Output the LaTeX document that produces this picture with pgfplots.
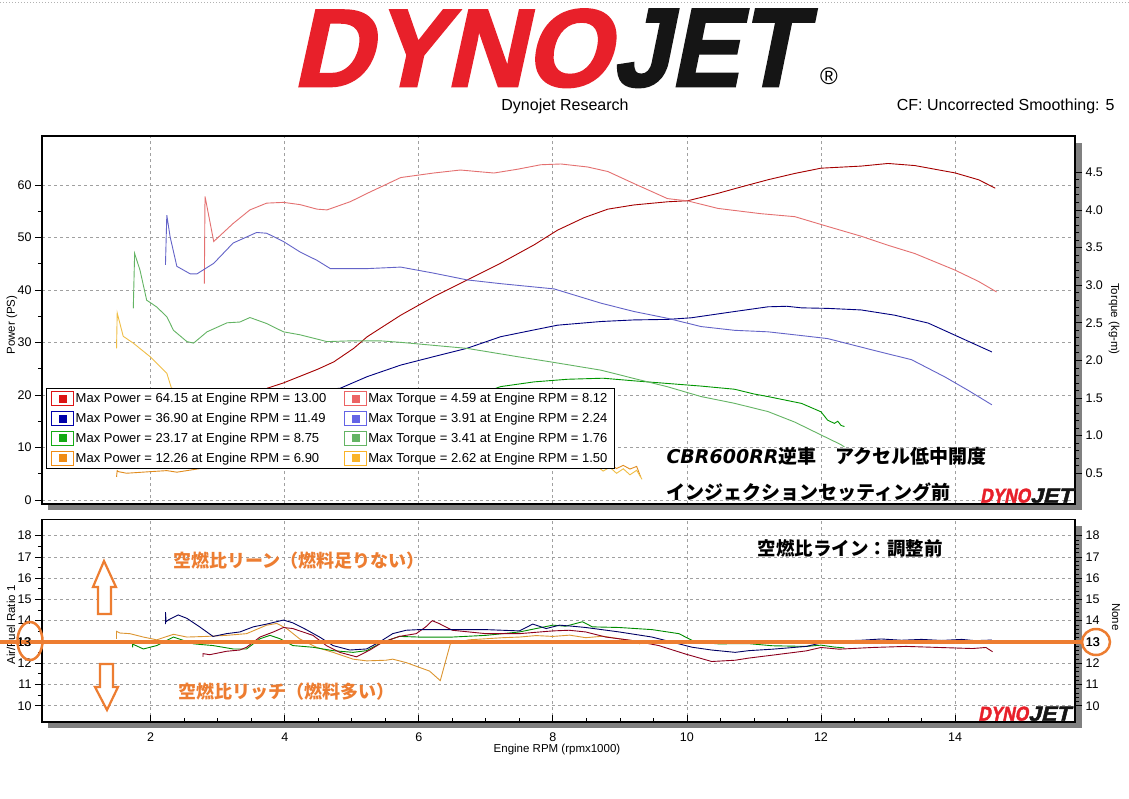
\documentclass[border=0pt]{standalone}
\usepackage{fontspec}
\setmainfont{Liberation Sans}
\newfontfamily\jp{Noto Sans CJK JP}
\newfontfamily\dv{DejaVu Sans}
\newfontfamily\logofont[FakeSlant=0.22,FakeBold=2]{Liberation Sans}
\usepackage{pgfplots}
\pgfplotsset{compat=1.18}

\definecolor{pwred}{RGB}{165,0,0}
\definecolor{tqred}{RGB}{228,112,112}
\definecolor{pwblue}{RGB}{0,0,128}
\definecolor{tqblue}{RGB}{100,100,200}
\definecolor{pwgreen}{RGB}{0,150,0}
\definecolor{tqgreen}{RGB}{100,180,100}
\definecolor{pworange}{RGB}{225,140,30}
\definecolor{tqorange}{RGB}{240,190,70}
\definecolor{lgred}{RGB}{220,20,20}
\definecolor{lgsalmon}{RGB}{236,100,100}
\definecolor{lgnavy}{RGB}{0,0,170}
\definecolor{lgslate}{RGB}{100,100,230}
\definecolor{lggreen}{RGB}{20,170,20}
\definecolor{lgltgreen}{RGB}{100,180,100}
\definecolor{lgorange}{RGB}{240,140,20}
\definecolor{lgyellow}{RGB}{250,180,40}
\definecolor{afrnavy}{RGB}{0,0,100}
\definecolor{afrred}{RGB}{140,0,30}
\definecolor{afrgreen}{RGB}{0,140,0}
\definecolor{afrorange}{RGB}{220,150,50}
\definecolor{note}{RGB}{237,125,49}
\definecolor{logored}{RGB}{232,32,42}
\definecolor{logoblk}{RGB}{21,21,21}
\definecolor{gridgray}{RGB}{160,160,160}
\definecolor{shadow}{RGB}{128,128,128}

\pgfplotsset{
  dynobase/.style={
    scale only axis, width=1033pt,
    xmin=0.378, xmax=15.79,
    axis line style={line width=1.1pt},
    tick align=outside,
    major tick length=7pt, minor tick length=4pt,
    every tick/.style={black, line width=0.8pt},
    tick label style={font=\fontsize{12.5}{13}\selectfont},
    /pgf/number format/assume math mode=true,
    major grid style={gridgray, dash pattern=on 3pt off 3pt, line width=0.8pt},
    every axis plot/.append style={line width=0.9pt, mark=none},
  }
}

\begin{document}
\begin{tikzpicture}[x=1pt,y=1pt]
\fill[white] (0,0) rectangle (1129,-798);
\path[use as bounding box] (0,0) rectangle (1129,-798);
\draw[gray!60, dotted, line width=1pt] (0,-2) -- (1129,-2);

% header
\node[anchor=north west, inner sep=0, text=logored] at (292,-9)
  {\resizebox{318pt}{77pt}{\logofont\bfseries DYNO}};
\node[anchor=north west, inner sep=0, text=logoblk] at (612,-9)
  {\resizebox{190pt}{77pt}{\logofont\bfseries JET}};
\node[font=\fontsize{24}{24}\selectfont] at (829,-76) {®};
\node[font=\fontsize{16}{16}\selectfont] at (565,-106) {Dynojet Research};
\node[anchor=east, font=\fontsize{16}{16}\selectfont] at (1118,-106) {CF: Uncorrected Smoothing: 5};

% panel shadows
\fill[shadow] (48,-504) rectangle (1082,-510);
\fill[shadow] (1075,-143) rectangle (1082,-510);
\fill[shadow] (48,-722) rectangle (1082,-728);
\fill[shadow] (1075,-526) rectangle (1082,-728);

% ---------- power (left axis)
\begin{axis}[dynobase, at={(42pt,-504pt)}, anchor=south west, height=368pt,
  ymin=-0.76, ymax=69.33, ytick={0,10,...,60}, minor y tick num=1, ytick pos=left,
  xtick={2,4,...,14}, xticklabels={}, xtick style={draw=none}, grid=major]
\addplot[pwred] coordinates {(2.80,12.0)(2.90,13.5)(3.0,14.8)(3.3,17.0)(3.6,19.8)(3.74,21.3)(3.98,22.3)(4.49,24.9)(4.73,26.3)(5.03,28.9)(5.23,31.1)(5.73,35.2)(6.22,38.7)(6.72,41.9)(7.22,45.1)(7.72,48.6)(8.07,51.4)(8.47,53.8)(8.82,55.4)(9.21,56.2)(9.71,56.8)(10.01,57.0)(10.46,58.4)(10.8,59.6)(11.21,61.0)(11.61,62.2)(12.0,63.2)(12.60,63.6)(13.0,64.1)(13.40,63.7)(14.0,62.3)(14.35,61.0)(14.60,59.4)};
\addplot[pwblue] coordinates {(2.24,12.2)(2.4,10.9)(2.7,11.9)(3.0,14.0)(3.5,17.9)(4.0,20.0)(4.5,20.9)(4.83,21.3)(5.23,23.5)(5.73,25.7)(6.22,27.3)(6.72,28.9)(7.22,31.1)(7.72,32.4)(8.07,33.3)(8.72,34.0)(9.21,34.3)(9.71,34.4)(10.06,34.7)(10.71,35.9)(11.21,36.8)(11.49,36.9)(11.71,36.6)(12.10,36.5)(12.60,36.2)(13.10,35.2)(13.60,33.7)(14.10,30.8)(14.55,28.2)};
\addplot[pwgreen] coordinates {(1.76,8.4)(2.0,7.8)(2.5,7.9)(3.0,10.3)(3.5,12.6)(4.0,13.3)(5.0,15.8)(6.0,18.4)(7.0,20.6)(7.22,21.6)(7.72,22.5)(8.22,23.0)(8.75,23.2)(9.21,22.7)(9.71,22.2)(10.21,21.7)(10.71,21.1)(11.0,20.2)(11.21,19.7)(11.71,18.4)(12.0,16.8)(12.10,15.2)(12.2,14.6)(12.25,15.0)(12.3,14.2)(12.35,14.0)};
\addplot[pworange] coordinates {(1.49,4.4)(1.50,5.6)(1.52,5.4)(1.64,5.1)(1.99,5.4)(2.24,5.6)(2.39,5.3)(2.74,6.0)(2.89,6.5)(3.5,7.5)(4.5,9.0)(5.5,10.5)(6.3,11.5)(6.9,12.26)(7.5,11.0)(8.2,8.5)(8.6,7.2)(8.67,7.0)(8.75,6.2)(8.85,6.8)(8.95,6.0)(9.05,6.6)(9.15,5.9)(9.25,6.4)(9.31,4.4)};
\end{axis}

% ---------- torque (right axis) + legend
\begin{axis}[dynobase, at={(42pt,-504pt)}, anchor=south west, height=368pt,
  ymin=0.092, ymax=4.982, axis y line*=right, axis x line=none,
  ytick={0.5,1.0,1.5,2.0,2.5,3.0,3.5,4.0,4.5}, minor y tick num=4,
  yticklabel style={/pgf/number format/.cd, fixed, fixed zerofill, precision=1},
  legend columns=2, legend cell align=left,
  legend style={at={(axis description cs:0.0039,0.3152)}, anchor=north west,
    draw=black, line width=0.8pt, fill=white, font=\fontsize{13}{13}\selectfont,
    inner xsep=5pt, inner ysep=3pt, row sep=5pt,
    nodes={inner sep=1.5pt},
    /tikz/every even column/.append style={column sep=16pt}},
  legend image code/.code={%
    \draw[#1, line width=0.8pt, fill=white] (0pt,-7pt) rectangle (22pt,7pt);
    \fill[#1] (8pt,-3.5pt) rectangle (15pt,3.5pt);}]
\addplot[tqred, forget plot] coordinates {(2.80,3.02)(2.81,4.18)(2.94,3.58)(3.23,3.82)(3.48,4.0)(3.73,4.09)(3.98,4.10)(4.23,4.07)(4.48,4.01)(4.63,4.0)(4.98,4.11)(5.23,4.22)(5.73,4.43)(6.22,4.49)(6.62,4.53)(7.12,4.49)(7.47,4.54)(7.82,4.60)(8.12,4.61)(8.52,4.57)(8.82,4.51)(9.21,4.35)(9.71,4.15)(10.01,4.12)(10.46,4.02)(11.1,3.95)(11.61,3.91)(12.10,3.78)(12.60,3.65)(13.0,3.53)(13.40,3.42)(14.0,3.20)(14.35,3.05)(14.62,2.91)};
\addplot[tqblue, forget plot] coordinates {(2.22,3.27)(2.24,3.93)(2.29,3.64)(2.39,3.25)(2.59,3.15)(2.69,3.15)(2.94,3.29)(3.23,3.56)(3.58,3.70)(3.73,3.69)(3.98,3.58)(4.23,3.44)(4.48,3.33)(4.68,3.22)(5.23,3.22)(5.73,3.24)(6.22,3.16)(6.72,3.07)(7.22,3.02)(8.02,2.95)(8.72,2.76)(9.21,2.65)(9.71,2.56)(10.21,2.45)(10.71,2.40)(11.21,2.38)(11.71,2.33)(12.10,2.29)(12.85,2.12)(13.35,2.01)(13.85,1.78)(14.2,1.60)(14.55,1.41)};
\addplot[tqgreen, forget plot] coordinates {(1.74,2.69)(1.76,3.42)(1.84,3.20)(1.94,2.80)(2.09,2.71)(2.24,2.58)(2.34,2.40)(2.54,2.25)(2.64,2.23)(2.84,2.38)(3.14,2.50)(3.33,2.51)(3.48,2.57)(3.73,2.49)(3.98,2.38)(4.23,2.34)(4.63,2.25)(4.98,2.26)(5.43,2.26)(5.73,2.24)(6.72,2.16)(7.47,2.05)(7.97,1.98)(8.72,1.87)(9.21,1.76)(9.71,1.65)(10.21,1.52)(10.71,1.43)(11.21,1.32)(11.61,1.18)(12.0,1.01)(12.30,0.88)(12.35,0.85)};
\addplot[tqorange, forget plot] coordinates {(1.49,2.16)(1.50,2.63)(1.59,2.32)(1.74,2.23)(1.99,2.05)(2.24,1.83)(2.31,1.63)(3.0,1.55)(4.0,1.43)(5.0,1.40)(6.0,1.30)(6.9,1.27)(8.0,0.85)(8.6,0.62)(8.65,0.60)(8.75,0.53)(8.85,0.58)(8.95,0.50)(9.05,0.56)(9.15,0.48)(9.25,0.54)(9.33,0.42)};
\addlegendimage{color=lgred}\addlegendentry{Max Power = 64.15 at Engine RPM = 13.00}
\addlegendimage{color=lgsalmon}\addlegendentry{Max Torque = 4.59 at Engine RPM = 8.12}
\addlegendimage{color=lgnavy}\addlegendentry{Max Power = 36.90 at Engine RPM = 11.49}
\addlegendimage{color=lgslate}\addlegendentry{Max Torque = 3.91 at Engine RPM = 2.24}
\addlegendimage{color=lggreen}\addlegendentry{Max Power = 23.17 at Engine RPM = 8.75}
\addlegendimage{color=lgltgreen}\addlegendentry{Max Torque = 3.41 at Engine RPM = 1.76}
\addlegendimage{color=lgorange}\addlegendentry{Max Power = 12.26 at Engine RPM = 6.90}
\addlegendimage{color=lgyellow}\addlegendentry{Max Torque = 2.62 at Engine RPM = 1.50}
\end{axis}

% ---------- air/fuel ratio
\begin{axis}[dynobase, at={(42pt,-722pt)}, anchor=south west, height=202.7pt,
  ymin=9.233, ymax=18.77, ytick={10,...,18}, minor y tick num=1, ytick pos=left,
  xtick={2,4,...,14}, minor x tick num=3, xtick pos=bottom, grid=major,
  major x tick style={yshift=7pt}, minor x tick style={yshift=4pt}]
\addplot[afrorange] coordinates {(1.49,13.15)(1.49,13.5)(1.54,13.42)(1.69,13.39)(1.89,13.23)(2.09,13.10)(2.34,13.36)(2.54,13.23)(2.83,13.26)(3.13,13.31)(3.43,13.39)(3.73,13.79)(3.88,13.87)(4.03,13.63)(4.22,13.15)(4.47,12.75)(4.72,12.51)(5.02,12.19)(5.22,12.11)(5.51,12.14)(5.61,12.19)(5.81,12.03)(6.16,11.63)(6.32,11.18)(6.47,12.91)(6.5,12.94)(6.75,13.1)(7.0,13.15)(7.25,13.2)(7.5,13.23)(7.75,13.3)(8.0,13.26)(8.25,13.32)(8.49,13.2)(8.75,13.27)(8.99,13.15)(9.23,13.04)(9.3,12.9)};
\addplot[afrgreen] coordinates {(1.73,12.75)(1.73,12.9)(1.89,12.67)(2.09,12.83)(2.34,13.23)(2.64,12.91)(2.93,12.83)(3.23,12.67)(3.43,12.67)(3.63,13.15)(3.78,13.31)(3.93,13.15)(4.12,12.83)(4.42,12.75)(4.72,12.59)(5.02,12.51)(5.22,12.59)(5.46,12.99)(5.71,13.26)(6.0,13.23)(6.5,13.23)(7.0,13.31)(7.5,13.47)(8.0,13.79)(8.19,13.74)(8.44,13.95)(8.59,13.71)(8.99,13.68)(9.48,13.58)(9.88,13.39)(10.13,12.99)(10.47,12.91)(10.92,12.92)(11.28,12.82)(11.78,12.79)(12.0,12.85)(12.2,12.76)(12.35,12.72)};
\addplot[afrred] coordinates {(2.78,12.30)(2.78,12.45)(2.88,12.40)(3.13,12.56)(3.33,12.62)(3.43,12.75)(3.63,13.23)(3.83,13.47)(3.98,13.68)(4.12,13.63)(4.42,13.31)(4.62,12.83)(4.82,12.51)(5.07,12.30)(5.27,12.62)(5.46,12.99)(5.71,13.26)(5.96,13.39)(6.1,13.7)(6.2,14.0)(6.3,13.87)(6.5,13.55)(7.0,13.39)(7.5,13.39)(8.0,13.52)(8.24,13.55)(8.49,13.47)(8.79,13.23)(9.18,13.07)(9.58,12.83)(9.98,12.43)(10.37,12.08)(10.72,12.14)(10.92,12.24)(11.28,12.38)(11.78,12.58)(12.0,12.74)(12.27,12.66)(12.77,12.74)(13.27,12.79)(13.76,12.74)(14.26,12.69)(14.46,12.74)(14.56,12.54)};
\addplot[afrnavy] coordinates {(2.22,13.84)(2.22,14.4)(2.23,13.95)(2.26,14.03)(2.41,14.27)(2.54,14.11)(2.73,13.71)(2.93,13.26)(3.13,13.39)(3.33,13.47)(3.53,13.71)(3.73,13.84)(3.98,14.03)(4.12,13.90)(4.32,13.58)(4.52,13.23)(4.72,12.83)(4.97,12.62)(5.22,12.67)(5.41,12.99)(5.61,13.39)(5.81,13.55)(6.0,13.58)(6.5,13.58)(7.0,13.58)(7.5,13.52)(7.7,13.84)(7.9,13.63)(8.1,13.79)(8.29,13.74)(8.49,13.68)(8.99,13.47)(9.48,13.23)(9.78,12.99)(10.08,12.75)(10.37,12.62)(10.72,12.51)(10.92,12.59)(11.28,12.66)(11.78,12.79)(12.0,12.95)(12.3,13.05)(12.6,13.08)(12.9,13.14)(13.2,13.08)(13.5,13.12)(13.8,13.07)(14.1,13.12)(14.3,13.06)(14.55,13.09)};
\end{axis}

\begin{axis}[dynobase, at={(42pt,-722pt)}, anchor=south west, height=202.7pt,
  ymin=9.233, ymax=18.77, axis y line*=right, axis x line=none,
  ytick={10,...,18}, minor y tick num=4]
\end{axis}

% axis titles
\begin{scope}[font=\fontsize{11.5}{12}\selectfont]
\node[rotate=90] at (12,-325) {Power (PS)};
\node[rotate=-90] at (1114,-319) {Torque (kg-m)};
\node[rotate=90] at (11,-625) {Air/Fuel Ratio 1};
\node[rotate=-90] at (1116,-617) {None};
\node at (557,-750) {Engine RPM (rpmx1000)};
\end{scope}

% in-plot notes
\node[anchor=west, font=\fontsize{19}{19}\selectfont] at (663,-456)
  {{\dv\bfseries\itshape CBR600RR}{\jp\bfseries 逆車　アクセル低中開度}};
\node[anchor=west, font=\fontsize{19}{19}\selectfont] at (663,-492)
  {\jp\bfseries インジェクションセッティング前};
\node[font=\fontsize{18.5}{19}\selectfont] at (850,-548) {\jp\bfseries 空燃比ライン：調整前};

% small logos
\node[anchor=south west, inner sep=0] at (980,-503)
  {\resizebox{50pt}{14pt}{\color{logored}\logofont\bfseries DYNO}\resizebox{42pt}{14pt}{\color{logoblk}\logofont\bfseries JET}};
\node[anchor=south west, inner sep=0] at (978,-721)
  {\resizebox{50pt}{14pt}{\color{logored}\logofont\bfseries DYNO}\resizebox{42pt}{14pt}{\color{logoblk}\logofont\bfseries JET}};

% orange annotations
\draw[note, line width=4pt] (0,-642) -- (1082,-642);
\node[anchor=east, inner sep=0, font=\fontsize{12.5}{13}\selectfont] at (31,-642) {13};
\node[anchor=west, inner sep=0, font=\fontsize{12.5}{13}\selectfont] at (1086,-642) {13};
\draw[note, line width=2.5pt] (30,-641) ellipse (12.5 and 19);
\draw[note, line width=2.5pt] (1096,-642) ellipse (14 and 13);
\draw[note, line width=2.2pt, fill=white, line join=miter]
  (104,-561) -- (116,-587) -- (111,-587) -- (111,-614) -- (98,-614) -- (98,-587) -- (93,-587) -- cycle;
\draw[note, line width=2.2pt, fill=white, line join=miter]
  (100,-664) -- (113,-664) -- (113,-687) -- (118,-687) -- (107,-710) -- (95,-687) -- (100,-687) -- cycle;
\node[anchor=west, text=note, font=\fontsize{18}{18}\selectfont] at (170,-561) {\jp\bfseries 空燃比リーン（燃料足りない）};
\node[anchor=west, text=note, font=\fontsize{18}{18}\selectfont] at (175,-692) {\jp\bfseries 空燃比リッチ（燃料多い）};
\end{tikzpicture}
\end{document}
